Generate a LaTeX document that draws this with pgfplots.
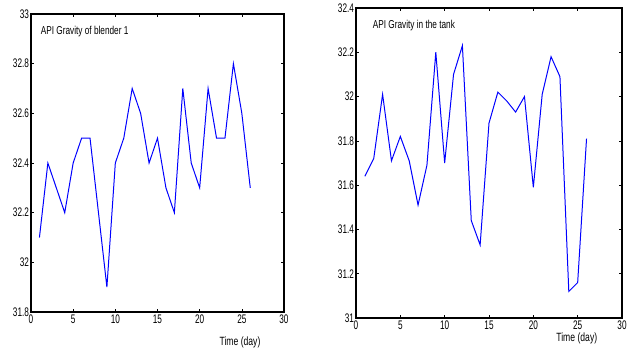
\documentclass[border=0pt]{standalone}
\usepackage{pgfplots}
\pgfplotsset{compat=1.18}
\usepackage{fontspec}
\setmainfont{Liberation Sans}[FakeStretch=0.8]
\newfontfamily\narrow{Liberation Sans}[FakeStretch=0.72]
\newfontfamily\ticknarrow{Liberation Sans}[FakeStretch=0.66]
\pgfplotsset{
  myax/.style={
    scale only axis,
    clip=false,
    anchor=south west,
    xmin=0, xmax=30,
    xtick={0,5,...,30},
    tick align=inside,
    axis line style={line width=1.1pt},
    major tick length=3bp,
    tick style={black, line width=0.5pt},
    ticklabel style={font=\ticknarrow\fontsize{12.5}{12.5}\selectfont},
    /pgf/number format/assume math mode=true,
    yticklabel style={/pgf/number format/fixed, /pgf/number format/precision=1, xshift=1.5bp},
    xticklabel style={yshift=1bp},
  }
}
\begin{document}
\begin{tikzpicture}
\useasboundingbox (0bp,0bp) rectangle (631bp,351bp);
\begin{axis}[myax, at={(31bp,39bp)}, width=253bp, height=298bp,
  ymin=31.8, ymax=33, ytick={31.8,32,...,33.01}]
\addplot[blue, line width=1pt] coordinates {
(1,32.1)(2,32.4)(3,32.3)(4,32.2)(5,32.4)(6,32.5)(7,32.5)(8,32.2)(9,31.9)(10,32.4)
(11,32.5)(12,32.7)(13,32.6)(14,32.4)(15,32.5)(16,32.3)(17,32.2)(18,32.7)(19,32.4)(20,32.3)
(21,32.7)(22,32.5)(23,32.5)(24,32.8)(25,32.6)(26,32.3)};
\node[anchor=west, font=\narrow\fontsize{11.5}{11.5}\selectfont] at (rel axis cs:0.025,0.94) {API Gravity of blender 1};
\node[anchor=center, font=\narrow\fontsize{12}{12}\selectfont] at (rel axis cs:0.826,0) [yshift=-30bp] {Time (day)};
\end{axis}
\begin{axis}[myax, at={(356bp,33bp)}, width=266bp, height=310bp,
  ymin=31, ymax=32.4, ytick={31,31.2,...,32.41}]
\addplot[blue, line width=1pt] coordinates {
(1,31.64)(2,31.72)(3,32.01)(4,31.71)(5,31.82)(6,31.71)(7,31.51)(8,31.69)(9,32.2)(10,31.70)
(11,32.1)(12,32.23)(13,31.44)(14,31.33)(15,31.88)(16,32.02)(17,31.98)(18,31.93)(19,32.0)(20,31.59)
(21,32.01)(22,32.18)(23,32.09)(24,31.12)(25,31.16)(26,31.81)};
\node[anchor=west, font=\narrow\fontsize{11.5}{11.5}\selectfont] at (rel axis cs:0.05,0.945) {API Gravity in the tank};
\node[anchor=center, font=\narrow\fontsize{12}{12}\selectfont] at (rel axis cs:0.83,0) [yshift=-20bp] {Time (day)};
\end{axis}
\end{tikzpicture}
\end{document}
